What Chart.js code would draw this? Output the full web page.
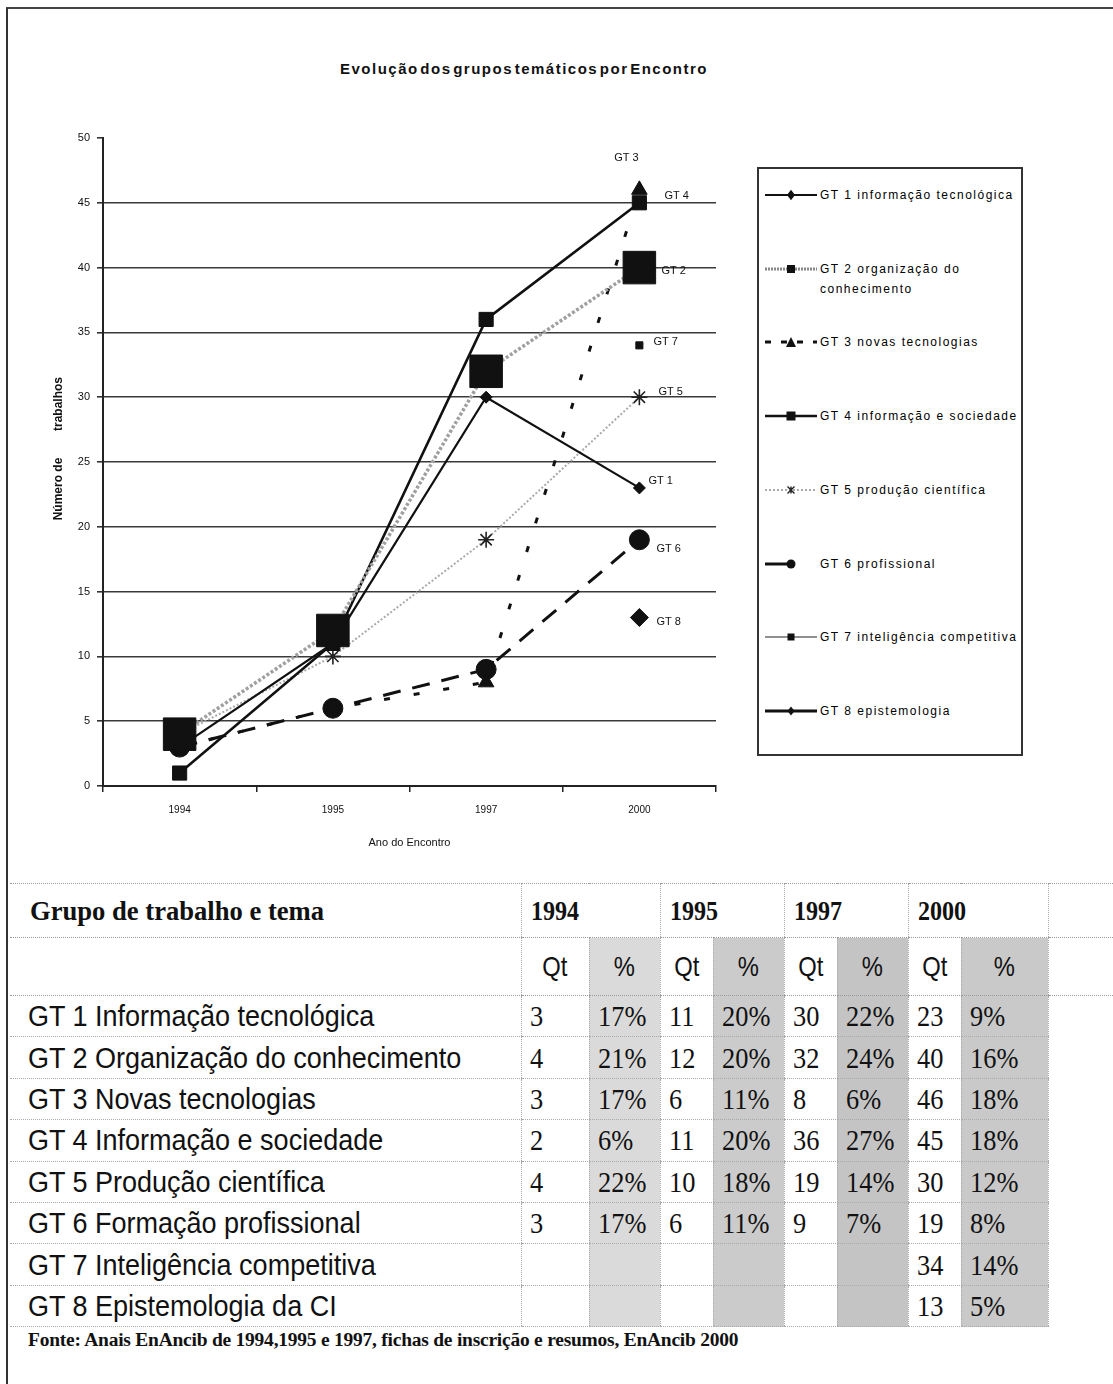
<!DOCTYPE html>
<html lang="pt">
<head>
<meta charset="utf-8">
<title>Evolução dos grupos temáticos por Encontro</title>
<script src="https://cdn.jsdelivr.net/npm/chart.js@4.4.1/dist/chart.umd.min.js"></script>
<style>
  html, body { margin: 0; padding: 0; background: #fff; }
  body { width: 1113px; height: 1384px; position: relative; overflow: hidden; color: #111;
         font-family: 'Liberation Sans', Arial, sans-serif; }
  #frame { position: absolute; left: 6px; top: 7px; width: 1120px; height: 1400px;
           border-left: 2px solid #333; border-top: 2px solid #444; }
  #title { position: absolute; left: 0; width: 1048px; top: 60px; text-align: center;
           font-weight: bold; font-size: 15px; letter-spacing: 1.5px; word-spacing: -4px; }
  #chart-box { position: absolute; left: 0; top: 0; width: 740px; height: 870px; }
  #legend { position: absolute; left: 757px; top: 167px; width: 266px; height: 589px;
            border: 2px solid #333; box-sizing: border-box; }
  .leg-item { position: absolute; left: 6px; display: flex; align-items: flex-start; }
  .leg-item svg { flex: none; }
  .leg-text { font-size: 12px; letter-spacing: 1.5px; line-height: 20px; margin-top: -2px; margin-left: 1px;
              white-space: nowrap; color: #000; }
  #tbl { position: absolute; left: 10px; top: 883px; border-collapse: collapse; table-layout: fixed; }
  #tbl td { padding: 0; white-space: nowrap; overflow: visible; vertical-align: middle; }
  .hdr td { border-top: 1px dotted #999; border-bottom: 1px dotted #999; }
  .sub td { border-bottom: 1px dotted #999; }
  .row td { border-bottom: 1px dotted #aaa; }
  td.num { border-left: 1px dotted #aaa; padding-left: 8px !important; }
  td.qh { border-left: 1px dotted #aaa; text-align: center; }
  td.yr { border-left: 1px dotted #aaa; padding-left: 9px !important; }
  td.fill { border-left: 1px dotted #aaa; border-bottom: none !important; }
  .hdr td.fill, .sub td.fill { border-bottom: 1px dotted #999 !important; }
  .lab { display: inline-block; font-size: 30px; transform: scaleX(0.9); transform-origin: left center; }
  .serif { display: inline-block; font-family: 'Liberation Serif', 'Times New Roman', serif; font-size: 30px;
           transform: scaleX(0.88); transform-origin: left center; }
  .bold { font-weight: bold; font-size: 28px; transform: scaleX(0.86); }
  .qt { display: inline-block; font-size: 28px; transform: scaleX(0.85); }
  #source { position: absolute; left: 28px; top: 1330px; font-family: 'Liberation Serif', 'Times New Roman', serif;
            font-size: 18px; font-weight: bold; white-space: nowrap; transform: scaleX(1.08); transform-origin: left center;
            letter-spacing: -0.2px; }
</style>
</head>
<body>
<div id="frame"></div>
<div id="title">Evolução dos grupos temáticos por Encontro</div>
<div id="chart-box"><canvas id="chart"></canvas></div>
<div id="legend"></div>
<table id="tbl"></table>
<div id="source">Fonte: Anais EnAncib de 1994,1995 e 1997, fichas de inscrição e resumos, EnAncib 2000</div>

<script>
// Dados do gráfico
const years = ['1994', '1995', '1997', '2000'];
const yTickValues = [0, 5, 10, 15, 20, 25, 30, 35, 40, 45, 50];

const gt1 = [3, 11, 30, 23];
const gt2 = [4, 12, 32, 40];
const gt3 = [3, 6, 8, 46];
const gt4 = [1, 11, 36, 45];
const gt5 = [4, 10, 19, 30];
const gt6 = [3, 6, 9, 19];
const gt7 = [null, null, null, 34];
const gt8 = [null, null, null, 13];

const seriesNames = [
  'GT 1 informação tecnológica',
  'GT 2 organização do conhecimento',
  'GT 3 novas tecnologias',
  'GT 4 informação e sociedade',
  'GT 5 produção científica',
  'GT 6 profissional',
  'GT 7 inteligência competitiva',
  'GT 8 epistemologia'
];
const endLabelText = ['GT 1', 'GT 2', 'GT 3', 'GT 4', 'GT 5', 'GT 6', 'GT 7', 'GT 8'];

// Dados da tabela
const rowLabels = [
  'GT 1 Informação tecnológica',
  'GT 2 Organização do conhecimento',
  'GT 3 Novas tecnologias',
  'GT 4 Informação e sociedade',
  'GT 5 Produção científica',
  'GT 6 Formação profissional',
  'GT 7 Inteligência competitiva',
  'GT 8 Epistemologia da CI'
];
const qt1994 = ['3', '4', '3', '2', '4', '3', '', ''];
const pct1994 = ['17%', '21%', '17%', '6%', '22%', '17%', '', ''];
const qt1995 = ['11', '12', '6', '11', '10', '6', '', ''];
const pct1995 = ['20%', '20%', '11%', '20%', '18%', '11%', '', ''];
const qt1997 = ['30', '32', '8', '36', '19', '9', '', ''];
const pct1997 = ['22%', '24%', '6%', '27%', '14%', '7%', '', ''];
const qt2000 = ['23', '40', '46', '45', '30', '19', '34', '13'];
const pct2000 = ['9%', '16%', '18%', '18%', '12%', '8%', '14%', '5%'];

// Estilos (separados dos dados)
const FONT = "'Liberation Sans', Arial, sans-serif";
const seriesData = [gt1, gt2, gt3, gt4, gt5, gt6, gt7, gt8];
const seriesStyles = [
  { color: '#111', width: 2.2, dash: [], point: 'rectRot', radius: 6, pointColor: '#111' },
  { color: '#a0a0a0', width: 3.5, dash: [3, 2], point: 'rect', radius: 23, pointColor: '#111' },
  { color: '#111', width: 3, dash: [6, 24], point: 'triangle', radius: 9, pointColor: '#111' },
  { color: '#111', width: 2.6, dash: [], point: 'rect', radius: 10, pointColor: '#111' },
  { color: '#aaa', width: 2, dash: [2, 2], point: 'star', radius: 8, pointColor: '#222' },
  { color: '#111', width: 3, dash: [18, 12], point: 'circle', radius: 10, pointColor: '#111' },
  { color: '#111', width: 1.5, dash: [], point: 'rect', radius: 5, pointColor: '#111' },
  { color: '#111', width: 3, dash: [], point: 'rectRot', radius: 9, pointColor: '#111' }
];
const endLabelOffsets = [[9, -7], [22, 3], [-13, -32], [25, -7], [19, -5], [17, 9], [14, -3], [17, 4]];
const legendMarkers = [
  { line: '#111', w: 2, dash: '', marker: 'diamond', size: 4 },
  { line: '#888', w: 3, dash: '2 1', marker: 'square', size: 4 },
  { line: '#111', w: 3, dash: '6 10', marker: 'triangle', size: 5 },
  { line: '#111', w: 2.5, dash: '', marker: 'square', size: 4.5 },
  { line: '#aaa', w: 2, dash: '2 2', marker: 'star', size: 3.5 },
  { line: '#111', w: 3, dash: '', marker: 'circle', size: 4.5, half: true },
  { line: '#222', w: 1.2, dash: '', marker: 'square', size: 3.5 },
  { line: '#111', w: 3, dash: '', marker: 'diamond', size: 3.5 }
];

// Rótulos GT n ao lado do último ponto
const endLabels = {
  id: 'endLabels',
  afterDatasetsDraw(chart) {
    const ctx = chart.ctx;
    ctx.save();
    ctx.font = `11px ${FONT}`;
    ctx.fillStyle = '#111';
    ctx.textBaseline = 'middle';
    chart.data.datasets.forEach((ds, i) => {
      const meta = chart.getDatasetMeta(i);
      const pt = meta.data[meta.data.length - 1];
      if (!pt) return;
      const [dx, dy] = endLabelOffsets[i];
      ctx.textAlign = dx < 0 ? 'center' : 'left';
      ctx.fillText(endLabelText[i], pt.x + dx, pt.y + dy);
    });
    ctx.restore();
  }
};

const datasets = seriesData.map((data, i) => {
  const s = seriesStyles[i];
  return {
    label: seriesNames[i],
    data,
    borderColor: s.color,
    borderWidth: s.width,
    borderDash: s.dash,
    pointStyle: s.point,
    pointRadius: s.radius,
    pointHoverRadius: s.radius,
    pointBackgroundColor: s.pointColor,
    pointBorderColor: s.pointColor,
    pointBorderWidth: s.point === 'star' ? 1.6 : 1,
    fill: false,
    tension: 0,
    spanGaps: false
  };
});

new Chart(document.getElementById('chart'), {
  type: 'line',
  data: { labels: years, datasets },
  options: {
    responsive: true,
    maintainAspectRatio: false,
    animation: false,
    layout: { padding: { top: 138, right: 20, bottom: 14, left: 0 } },
    plugins: {
      legend: { display: false },
      tooltip: { enabled: false },
      title: { display: false }
    },
    scales: {
      x: {
        offset: true,
        grid: { display: true, drawOnChartArea: false, drawTicks: true, tickLength: 6, offset: true,
                color: '#222', lineWidth: 1.5 },
        border: { color: '#222', width: 2 },
        ticks: { padding: 12, color: '#111', font: { family: FONT, size: 10 }, maxRotation: 0 },
        title: { display: true, text: 'Ano do Encontro', color: '#111',
                 font: { family: FONT, size: 11 }, padding: { top: 0, bottom: 6 } },
        afterFit(s) { s.height = 70; }
      },
      y: {
        min: 0,
        max: 50,
        afterBuildTicks(s) { s.ticks = yTickValues.map(v => ({ value: v })); },
        grid: {
          color: c => (c.tick && c.tick.value === 50) ? 'rgba(0,0,0,0)' : '#3a3a3a',
          tickColor: '#333',
          lineWidth: 1.6,
          tickLength: 6
        },
        border: { color: '#222', width: 2 },
        ticks: { padding: 7, color: '#111', font: { family: FONT, size: 11 } },
        title: { display: true, text: '        Número de        trabalhos', color: '#111',
                 font: { family: FONT, size: 12, weight: 'bold' }, padding: { top: 51, bottom: 0 } },
        afterFit(s) { s.width = 103; }
      }
    }
  },
  plugins: [endLabels]
});

// Legenda em HTML
function swatch(m) {
  const cy = 8;
  const cx = 26;
  const r = m.size;
  let mk = '';
  if (m.marker === 'diamond') mk = `<polygon points="${cx},${cy - r * 1.3} ${cx + r},${cy} ${cx},${cy + r * 1.3} ${cx - r},${cy}" fill="#111"/>`;
  if (m.marker === 'square') mk = `<rect x="${cx - r}" y="${cy - r}" width="${2 * r}" height="${2 * r}" fill="#111"/>`;
  if (m.marker === 'triangle') mk = `<polygon points="${cx},${cy - r} ${cx + r},${cy + r} ${cx - r},${cy + r}" fill="#111"/>`;
  if (m.marker === 'circle') mk = `<circle cx="${cx}" cy="${cy}" r="${r}" fill="#111"/>`;
  if (m.marker === 'star') mk = `<path d="M${cx - r},${cy - r}L${cx + r},${cy + r}M${cx + r},${cy - r}L${cx - r},${cy + r}M${cx},${cy - r}L${cx},${cy + r}" stroke="#222" stroke-width="1.4"/>`;
  const x2 = m.half ? 26 : 52;
  const dash = m.dash ? ` stroke-dasharray="${m.dash}"` : '';
  return `<svg width="54" height="16" viewBox="0 0 54 16"><line x1="0" y1="${cy}" x2="${x2}" y2="${cy}" stroke="${m.line}" stroke-width="${m.w}"${dash}/>${mk}</svg>`;
}

const legendEl = document.getElementById('legend');
legendEl.innerHTML = seriesNames.map((name, i) => {
  const top = 18 + i * 73.7;
  const text = i === 1 ? 'GT 2 organização do<br>conhecimento' : name;
  return `<div class="leg-item" style="top:${top}px">${swatch(legendMarkers[i])}<span class="leg-text">${text}</span></div>`;
}).join('');

// Tabela
const colWidths = [511, 68, 71, 53, 71, 53, 71, 53, 87, 65];
const shades = ['#dadada', '#cbcbcb', '#c4c4c4', '#c9c9c9'];
const qtCols = [qt1994, qt1995, qt1997, qt2000];
const pctCols = [pct1994, pct1995, pct1997, pct2000];

let html = '<colgroup>' + colWidths.map(w => `<col style="width:${w}px">`).join('') + '</colgroup>';
html += '<tr class="hdr" style="height:54px"><td style="padding-left:20px"><span class="serif bold" style="transform:scaleX(0.95)">Grupo de trabalho e tema</span></td>';
years.forEach(y => { html += `<td class="yr" colspan="2"><span class="serif bold">${y}</span></td>`; });
html += '<td class="fill"></td></tr>';
html += '<tr class="sub" style="height:58px"><td></td>';
years.forEach((y, k) => {
  html += `<td class="qh"><span class="qt">Qt</span></td><td class="qh" style="background:${shades[k]}"><span class="qt">%</span></td>`;
});
html += '<td class="fill"></td></tr>';
rowLabels.forEach((lab, r) => {
  html += `<tr class="row" style="height:41.4px"><td style="padding-left:18px"><span class="lab">${lab}</span></td>`;
  years.forEach((y, k) => {
    html += `<td class="num"><span class="serif">${qtCols[k][r]}</span></td>`;
    html += `<td class="num" style="background:${shades[k]}"><span class="serif">${pctCols[k][r]}</span></td>`;
  });
  html += '<td class="fill" style="border-bottom:none"></td></tr>';
});
document.getElementById('tbl').innerHTML = html;
</script>
</body>
</html>
